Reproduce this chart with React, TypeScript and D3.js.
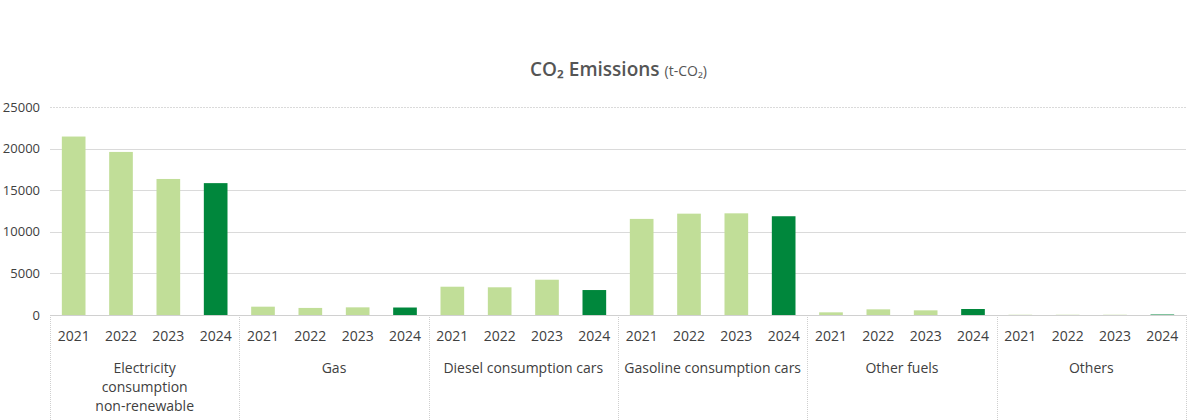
import React from 'react'
import * as d3 from 'd3'

// data (t-CO2)
const categories = [
    ['Electricity', 'consumption', 'non-renewable'],
    ['Gas'],
    ['Diesel consumption cars'],
    ['Gasoline consumption cars'],
    ['Other fuels'],
    ['Others'],
]
const years = ['2021', '2022', '2023', '2024']
const values2021 = [21450, 1000, 3400, 11550, 320, 30]
const values2022 = [19600, 850, 3330, 12180, 680, 30]
const values2023 = [16350, 920, 4240, 12220, 560, 30]
const values2024 = [15850, 900, 3000, 11870, 720, 60]
const yTicks = [0, 5000, 10000, 15000, 20000, 25000]

const seriesByYear = [values2021, values2022, values2023, values2024]

export default function App() {
    const width = 1200, height = 420
    const margin = {top: 107, right: 14, bottom: 105, left: 50}
    const innerBottom = height - margin.bottom

    const groupScale = d3.scaleBand()
        .domain(categories.map((d, i) => String(i)))
        .range([margin.left, width - margin.right])
        .padding(0)

    const yearScale = d3.scaleBand()
        .domain(years)
        .range([0, groupScale.bandwidth()])
        .paddingInner(0.5)
        .paddingOuter(0.25)

    const yScale = d3.scaleLinear()
        .domain([0, 25000])
        .range([innerBottom, margin.top])

    const light = '#c1de98'
    const dark = '#00873c'
    const textColor = '#404040'
    const font = '"Open Sans", "DejaVu Sans", sans-serif'

    return (
        <svg width={width} height={height}
            style={{position: 'absolute', left: 0, top: 0, display: 'block', background: '#fff'}}
            fontFamily={font}>
            {/* title */}
            <text x={530} y={76} textAnchor="start" fill="#555" fontFamily={font}>
                <tspan fontSize={19} fontWeight={600}>CO₂ Emissions</tspan>
                <tspan fontSize={14} dx={5}>(t-CO₂)</tspan>
            </text>

            {/* gridlines + y ticks */}
            {yTicks.map(t => (
                <g key={t}>
                    <line x1={margin.left} x2={width - margin.right}
                        y1={Math.round(yScale(t)) + 0.5} y2={Math.round(yScale(t)) + 0.5}
                        stroke="#dadada" strokeWidth={1}
                        strokeDasharray={t === 25000 ? '2,1' : undefined} />
                    <text x={40} y={yScale(t) + 4.5} textAnchor="end" fontSize={13} fill={textColor}>{t}</text>
                </g>
            ))}

            {/* bars */}
            {categories.map((c, ci) => (
                <g key={ci} transform={`translate(${groupScale(String(ci))},0)`}>
                    {years.map((yr, yi) => {
                        const v = seriesByYear[yi][ci]
                        const yTop = yScale(v)
                        return (
                            <rect key={yr}
                                x={yearScale(yr)}
                                y={yTop}
                                width={yearScale.bandwidth()}
                                height={innerBottom - yTop}
                                fill={yi === 3 ? dark : light} />
                        )
                    })}
                </g>
            ))}

            {/* category axis */}
            <line x1={margin.left} x2={width - margin.right} y1={innerBottom + 0.5} y2={innerBottom + 0.5}
                stroke="#d0d0d0" />
            {categories.map((c, ci) => {
                const gx = groupScale(String(ci))
                return (
                    <g key={ci}>
                        <line x1={Math.round(gx) + 0.5} x2={Math.round(gx) + 0.5} y1={innerBottom} y2={height}
                            stroke="#cfcfcf" strokeDasharray="1,1" />
                        {years.map(yr => (
                            <text key={yr} x={gx + yearScale(yr) + yearScale.bandwidth() / 2} y={341}
                                textAnchor="middle" fontSize={14} fill={textColor}>{yr}</text>
                        ))}
                        {c.map((line, li) => (
                            <text key={li} x={gx + groupScale.bandwidth() / 2} y={373 + li * 19}
                                textAnchor="middle" fontSize={14} fill={textColor}>{line}</text>
                        ))}
                    </g>
                )
            })}
            <line x1={width - margin.right + 0.5} x2={width - margin.right + 0.5} y1={innerBottom} y2={height}
                stroke="#cfcfcf" strokeDasharray="1,1" />
        </svg>
    )
}
